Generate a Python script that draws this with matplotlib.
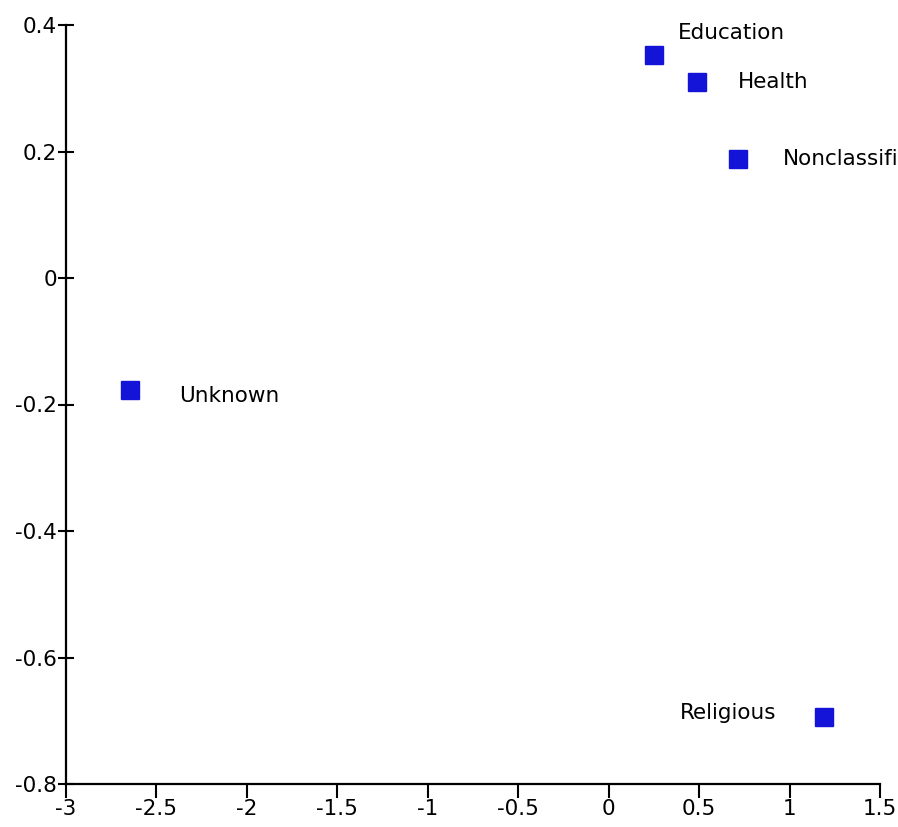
import matplotlib
matplotlib.use("Agg")
import matplotlib.pyplot as plt

labels = ["Education", "Health", "Nonclassified", "Unknown", "Religious"]
xs = [0.25, 0.49, 0.715, -2.645, 1.19]
ys = [0.353, 0.31, 0.188, -0.177, -0.694]

xticks = [-3, -2.5, -2, -1.5, -1, -0.5, 0, 0.5, 1, 1.5]
xticklabels = ["-3", "-2.5", "-2", "-1.5", "-1", "-0.5", "0", "0.5", "1", "1.5"]
yticks = [-0.8, -0.6, -0.4, -0.2, 0, 0.2, 0.4]
yticklabels = ["-0.8", "-0.6", "-0.4", "-0.2", "0", "0.2", "0.4"]

# label offsets in points (dx, dy, ha)
OFFSETS = {"Education": (17, 16, "left"), "Health": (29, 0, "left"),
           "Nonclassified": (32, 0, "left"), "Unknown": (35, -4, "left"),
           "Religious": (-34, 3, "right")}

plt.rcParams["axes.unicode_minus"] = False
plt.rcParams["font.family"] = "DejaVu Sans"

fig = plt.figure(figsize=(8.98, 8.27), dpi=100)
ax = fig.add_axes([66 / 898, 1 - 784 / 827, (880 - 66) / 898, (784 - 25) / 827])
ax.plot(xs, ys, ls="none", marker="s", ms=12.5, color="#1414d8", mec="#1414d8")
for lab, x, y in zip(labels, xs, ys):
    dx, dy, ha = OFFSETS[lab]
    ax.annotate(lab, (x, y), xytext=(dx, dy), textcoords="offset points",
                ha=ha, va="center", fontsize=15.5, annotation_clip=False,
                clip_on=False)

ax.set_xlim(-3, 1.5)
ax.set_ylim(-0.8, 0.4)
ax.set_xticks(xticks)
ax.set_xticklabels(xticklabels)
ax.set_yticks(yticks)
ax.set_yticklabels(yticklabels)
for s in ["top", "right"]:
    ax.spines[s].set_visible(False)
for s in ["left", "bottom"]:
    ax.spines[s].set_linewidth(1.6)
ax.tick_params(axis="x", direction="out", length=10, width=1.5, labelsize=15.5, pad=1)
ax.tick_params(axis="y", direction="inout", length=11, width=1.5, labelsize=15.5, pad=1)

fig.savefig("out.png", dpi=100)
